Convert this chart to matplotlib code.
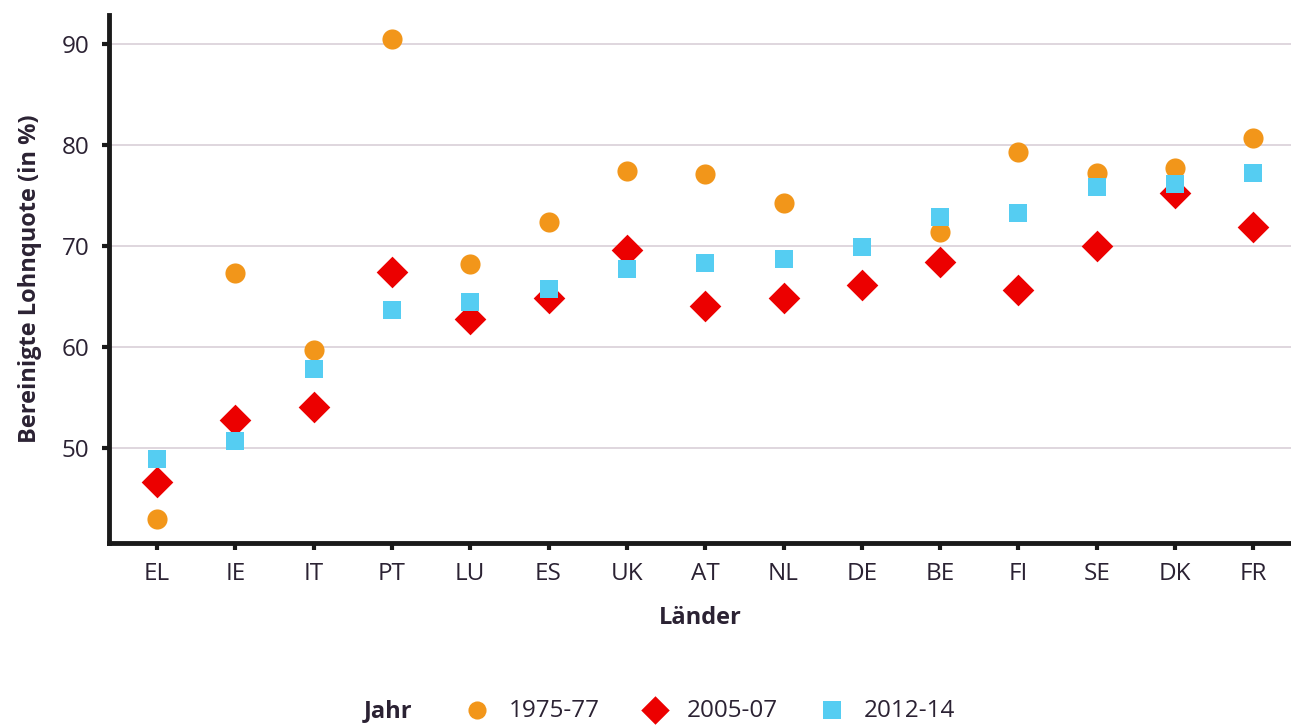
import matplotlib
matplotlib.use("Agg")
import matplotlib.pyplot as plt

plt.rcParams['font.family'] = ['Open Sans', 'DejaVu Sans']

# Daten (DE 1975-77 ist im Original nicht sichtbar)
laender = ['EL', 'IE', 'IT', 'PT', 'LU', 'ES', 'UK', 'AT', 'NL', 'DE', 'BE', 'FI', 'SE', 'DK', 'FR']
q_1975 = [43.0, 67.4, 59.7, 90.5, 68.2, 72.4, 77.5, 77.2, 74.3, float('nan'), 71.4, 79.3, 77.3, 77.8, 80.7]
q_2005 = [46.6, 52.8, 54.1, 67.5, 62.8, 64.9, 69.6, 64.1, 64.9, 66.2, 68.4, 65.7, 70.0, 75.3, 71.9]
q_2012 = [48.9, 50.7, 57.8, 63.7, 64.5, 65.8, 67.8, 68.3, 68.7, 69.9, 72.9, 73.3, 75.9, 76.2, 77.3]
yticks = [50, 60, 70, 80, 90]

txt = '#2b2233'
c_or = '#f2961a'
c_rd = '#ec0000'
c_bl = '#55cdf2'

fig = plt.figure(figsize=(12.91, 7.25), dpi=100)
ax = fig.add_axes([0.0844, 0.251, 0.9156, 0.728])

x = range(len(laender))
ax.scatter(x, q_1975, s=210, marker='o', color=c_or, lw=0, zorder=3, label='1975-77')
ax.scatter(x, q_2005, s=260, marker='D', color=c_rd, lw=0, zorder=4, label='2005-07')
ax.scatter(x, q_2012, s=185, marker='s', color=c_bl, lw=0, zorder=5, label='2012-14')

ax.set_xlim(-0.613, 14.48)
ax.set_ylim(40.6, 92.9)
ax.set_xticks(list(x))
ax.set_xticklabels(laender)
ax.set_yticks(yticks)
ax.grid(axis='y', color='#dcd3db', lw=1.3, zorder=0)
ax.set_axisbelow(True)

for s in ['top', 'right']:
    ax.spines[s].set_visible(False)
for s in ['left', 'bottom']:
    ax.spines[s].set_linewidth(3.5)
    ax.spines[s].set_color('#1a1a1a')
ax.tick_params(axis='both', direction='out', length=5, width=3, color='#1a1a1a',
               labelsize=17.5, labelcolor=txt, pad=9)

ax.set_ylabel('Bereinigte Lohnquote (in %)', fontsize=17, fontweight='bold', color=txt, labelpad=14)
ax.set_xlabel('Länder', fontsize=17, fontweight='bold', color=txt, labelpad=14)

fig.text(0.282, 0.003, 'Jahr', fontsize=17, fontweight='bold', color=txt, ha='left', va='bottom')
leg = fig.legend(loc='lower left', bbox_to_anchor=(0.334, -0.027), ncol=3, frameon=False,
                 fontsize=17.5, handletextpad=0.3, columnspacing=1.25, markerscale=0.9)
for t in leg.get_texts():
    t.set_color(txt)

fig.savefig('out.png', dpi=100)
